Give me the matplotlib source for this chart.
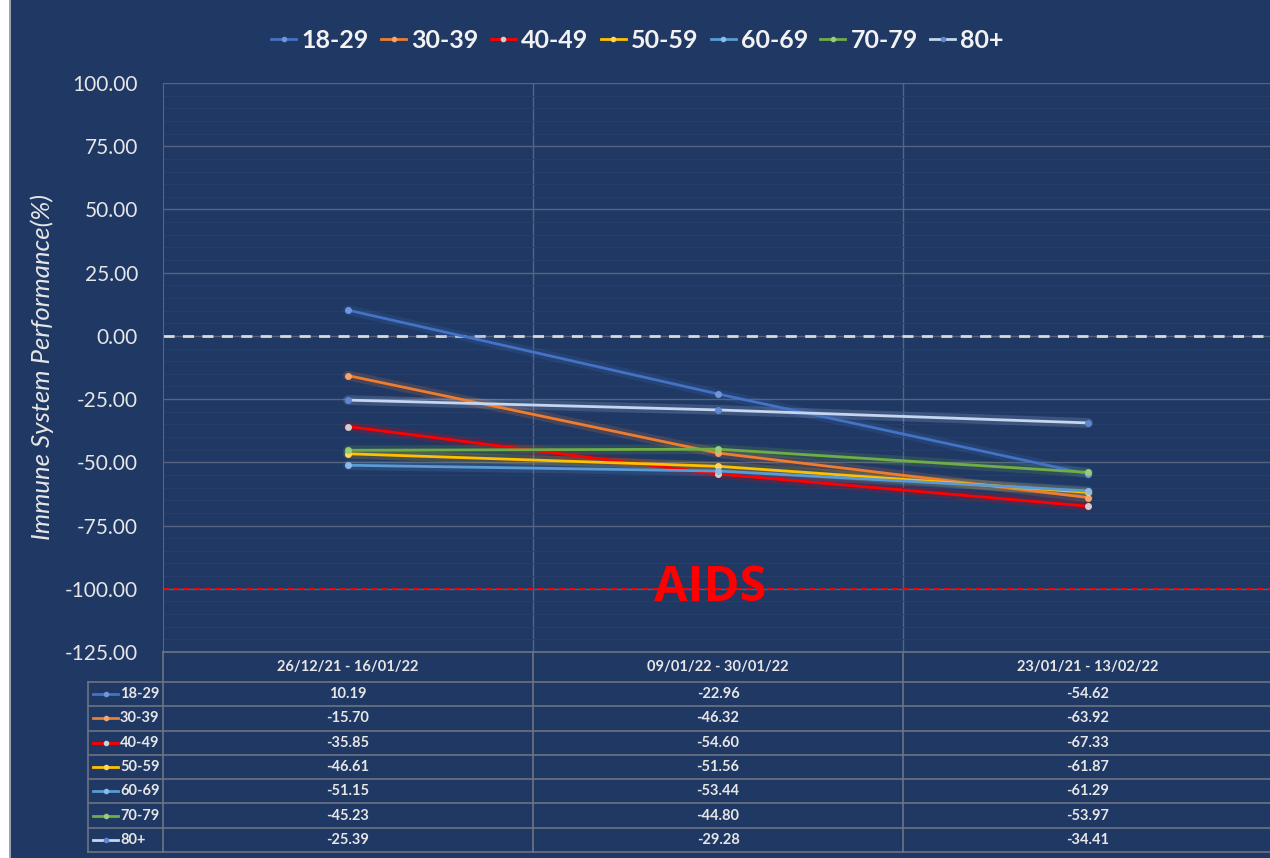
import matplotlib.pyplot as plt
import matplotlib.patches as mpatches
from matplotlib.ticker import MultipleLocator, FormatStrFormatter
from matplotlib.lines import Line2D

plt.rcParams['axes.unicode_minus'] = False
plt.rcParams['font.family'] = ['Lato', 'DejaVu Sans']

periods = ['26/12/21 - 16/01/22', '09/01/22 - 30/01/22', '23/01/21 - 13/02/22']
groups = ['18-29', '30-39', '40-49', '50-59', '60-69', '70-79', '80+']
values = {
    '18-29': [10.19, -22.96, -54.62],
    '30-39': [-15.70, -46.32, -63.92],
    '40-49': [-35.85, -54.60, -67.33],
    '50-59': [-46.61, -51.56, -61.87],
    '60-69': [-51.15, -53.44, -61.29],
    '70-79': [-45.23, -44.80, -53.97],
    '80+': [-25.39, -29.28, -34.41],
}
colors = ['#4472c4', '#ed7d31', '#ff0000', '#ffc000', '#5b9bd5', '#70ad47', '#c5d6f0']
marker_colors = ['#6f95dd', '#f4a36b', '#d0d0d0', '#ffd75a', '#8bbbe6', '#98cc76', '#5f86d0']

bg = '#1f3864'
grid_c = '#56647f'
txt_c = '#e6e6e6'

W, H = 1270, 858
fig = plt.figure(figsize=(12.7, 8.58), dpi=100, facecolor=bg)

# plot area in pixels
left, right, top, bottom = 163, 1273, 83, 652
ax = fig.add_axes([left / W, 1 - bottom / H, (right - left) / W, (bottom - top) / H])
ax.set_facecolor(bg)

x = list(range(len(periods)))
for i, g in enumerate(groups):
    ax.plot(x, values[g], color=colors[i], lw=7, alpha=0.18, solid_capstyle='round', zorder=3)
    ax.plot(x, values[g], color=colors[i], lw=2, marker='o', ms=4,
            markerfacecolor=marker_colors[i], markeredgecolor=marker_colors[i], zorder=4)

ax.axhline(0, color='#d9d9d9', lw=2, ls=(0, (4, 3)), zorder=2)
ax.axhline(-100, color='#ff0000', lw=1.5, ls=(0, (3, 2)), zorder=2)
ax.text(0.98, -100, 'AIDS', color='#ff0000', fontsize=35, fontweight='bold',
        ha='center', va='center', family=['Open Sans', 'DejaVu Sans'], zorder=5)

ax.set_xlim(-0.5, 2.5)
ax.set_ylim(-125, 100)
ax.yaxis.set_major_locator(MultipleLocator(25))
ax.yaxis.set_minor_locator(MultipleLocator(5))
ax.yaxis.set_major_formatter(FormatStrFormatter('%.2f'))
ax.set_xticks([0.5, 1.5])
ax.tick_params(axis='x', length=0, labelbottom=False)
ax.tick_params(axis='y', which='both', length=0, labelsize=15, labelcolor=txt_c, pad=18)
ax.grid(axis='y', which='major', color=grid_c, lw=1)
ax.grid(axis='y', which='minor', color='#293f6a', lw=0.7)
ax.grid(axis='x', color=grid_c, lw=1)
for s in ['top', 'right', 'bottom']:
    ax.spines[s].set_visible(False)
ax.spines['left'].set_color(grid_c)
ax.set_ylabel('Immune System Performance(%)', fontsize=18.5, style='italic',
              color=txt_c)
ax.yaxis.set_label_coords(-0.098, 0.5)

# legend at top
handles = [Line2D([0], [0], color=colors[i], lw=2, marker='o', ms=3,
                  markerfacecolor=marker_colors[i], markeredgecolor=marker_colors[i])
           for i in range(len(groups))]
leg = fig.legend(handles, groups, loc='center', bbox_to_anchor=(0.502, 1 - 40 / H), ncol=7,
                 frameon=False, handlelength=1.0, handletextpad=0.2,
                 columnspacing=0.5, prop={'weight': 'bold', 'size': 18,
                                          'family': ['Lato', 'DejaVu Sans']})
for t in leg.get_texts():
    t.set_color('#f2f2f2')

# data table drawn in pixel space
tab = fig.add_axes([0, 0, 1, 1], facecolor='none')
tab.set_xlim(0, W)
tab.set_ylim(H, 0)
tab.axis('off')

col_edges = [left + (right - left) * k / 3 for k in range(4)]
hdr_top, hdr_bot, tab_bot = 652, 682, 852
row_h = (tab_bot - hdr_bot) / len(groups)
leg_left = 88
lc = '#6d7480'

# header
tab.plot([left, right], [hdr_top, hdr_top], color=lc, lw=1.2)
for cx in col_edges:
    tab.plot([cx, cx], [hdr_top, tab_bot], color=lc, lw=1.2)
for k, p in enumerate(periods):
    tab.text((col_edges[k] + col_edges[k + 1]) / 2, (hdr_top + hdr_bot) / 2, p,
             color=txt_c, fontsize=10.5, fontweight='bold', ha='center', va='center')

# rows
tab.plot([leg_left, leg_left], [hdr_bot, tab_bot], color=lc, lw=1.2)
for r in range(len(groups) + 1):
    yy = hdr_bot + r * row_h
    tab.plot([leg_left, right], [yy, yy], color=lc, lw=1.2)
for r, g in enumerate(groups):
    yc = hdr_bot + (r + 0.5) * row_h
    tab.plot([93, 118], [yc, yc], color=colors[r], lw=2)
    tab.plot([105.5], [yc], marker='o', ms=3, color=marker_colors[r])
    tab.text(120, yc, g, color=txt_c, fontsize=10.5, fontweight='bold', ha='left', va='center')
    for k in range(len(periods)):
        tab.text((col_edges[k] + col_edges[k + 1]) / 2, yc, '%.2f' % values[g][k],
                 color=txt_c, fontsize=10.5, fontweight='bold', ha='center', va='center')

# white strip at left edge
fig.patches.append(mpatches.Rectangle((0, 0), 9 / W, 1, transform=fig.transFigure,
                                      facecolor='white', edgecolor='none', zorder=10))
fig.patches.append(mpatches.Rectangle((9 / W, 0), 1.5 / W, 1, transform=fig.transFigure,
                                      facecolor='#9aa3b0', edgecolor='none', zorder=10))

fig.savefig('out.png', dpi=100, facecolor=bg)
